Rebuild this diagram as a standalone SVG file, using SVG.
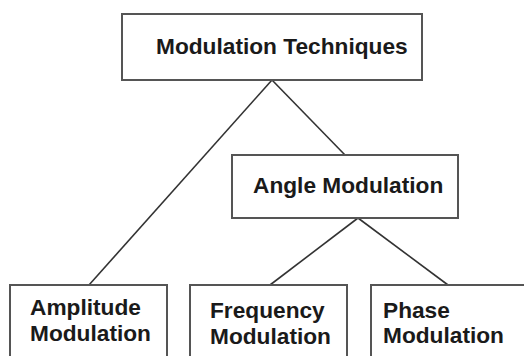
<svg xmlns="http://www.w3.org/2000/svg" width="524" height="356" viewBox="0 0 524 356">
<style>
.box{fill:#fff;stroke:#555;stroke-width:2}
.lbl{font-family:"Liberation Sans",Arial,sans-serif;font-weight:bold;font-size:22.7px;fill:#1a1a1a}
.con line{stroke:#333;stroke-width:1.6}
</style>
<rect width="524" height="356" fill="#fff"/>
<g id="connectors" class="con">
<line x1="272" y1="80" x2="345" y2="155"/>
<line x1="272" y1="80" x2="89" y2="285"/>
<line x1="358" y1="218" x2="270" y2="285"/>
<line x1="358" y1="218" x2="448" y2="285"/>
</g>
<g id="modulation-techniques">
<rect class="box" x="122" y="14" width="300" height="66"/>
<text class="lbl" x="156" y="54">Modulation Techniques</text>
</g>
<g id="angle-modulation">
<rect class="box" x="232" y="155" width="226" height="63"/>
<text class="lbl" x="253" y="193">Angle Modulation</text>
</g>
<g id="amplitude-modulation">
<rect class="box" x="10" y="285" width="157" height="80"/>
<text class="lbl" x="30" y="315">Amplitude</text>
<text class="lbl" x="30" y="341">Modulation</text>
</g>
<g id="frequency-modulation">
<rect class="box" x="190" y="285" width="157" height="80"/>
<text class="lbl" x="210" y="318">Frequency</text>
<text class="lbl" x="210" y="344">Modulation</text>
</g>
<g id="phase-modulation">
<rect class="box" x="371" y="285" width="170" height="80"/>
<text class="lbl" x="383" y="318">Phase</text>
<text class="lbl" x="383" y="343">Modulation</text>
</g>
</svg>
